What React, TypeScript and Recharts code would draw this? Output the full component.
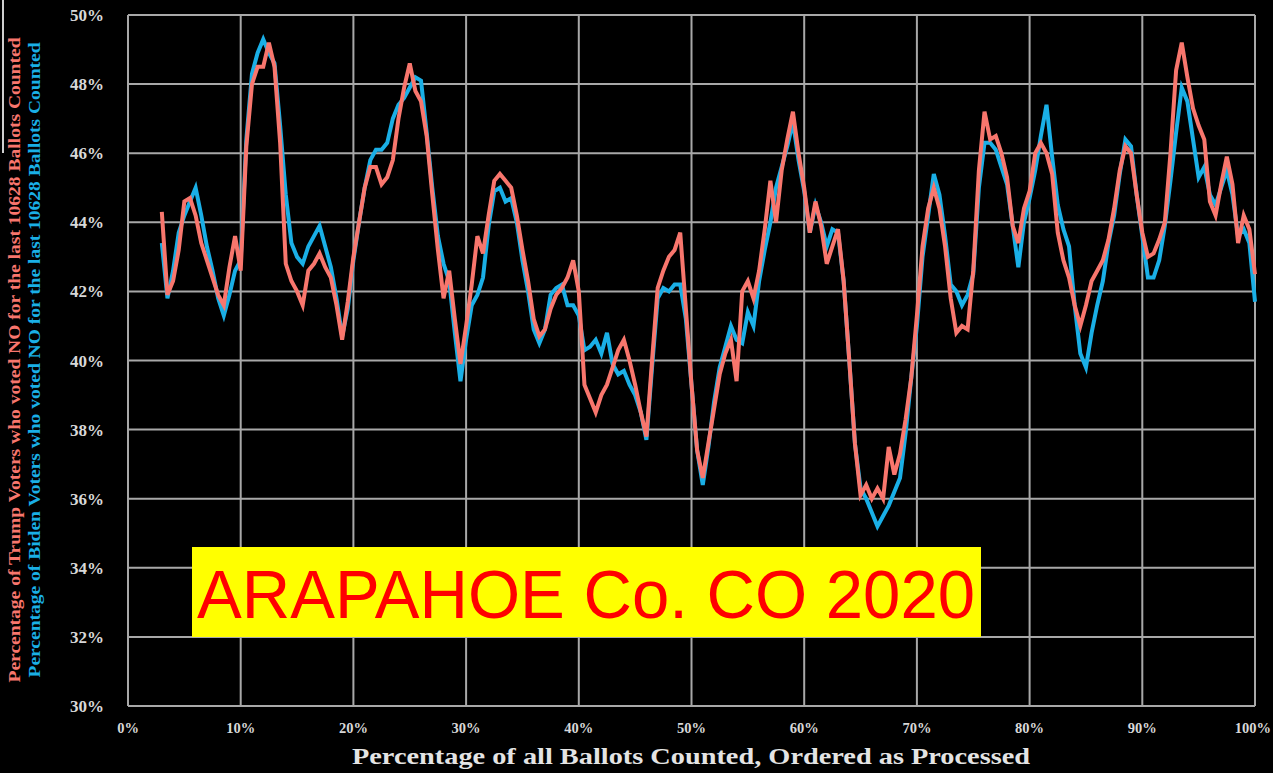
import React from "react";
import { LineChart, Line, XAxis, YAxis, CartesianGrid } from "recharts";

const pct = [
  3.0, 3.5, 4.0, 4.5, 5.0, 5.5, 6.0, 6.5, 7.0, 7.5, 8.0, 8.5, 9.0, 9.5, 10.0, 10.5, 11.0, 11.5, 12.0, 12.5,
  13.0, 13.5, 14.0, 14.5, 15.0, 15.5, 16.0, 16.5, 17.0, 17.5, 18.0, 18.5, 19.0, 19.5, 20.0, 20.5, 21.0, 21.5, 22.0, 22.5,
  23.0, 23.5, 24.0, 24.5, 25.0, 25.5, 26.0, 26.5, 27.0, 27.5, 28.0, 28.5, 29.0, 29.5, 30.0, 30.5, 31.0, 31.5, 32.0, 32.5,
  33.0, 33.5, 34.0, 34.5, 35.0, 35.5, 36.0, 36.5, 37.0, 37.5, 38.0, 38.5, 39.0, 39.5, 40.0, 40.5, 41.0, 41.5, 42.0, 42.5,
  43.0, 43.5, 44.0, 44.5, 45.0, 45.5, 46.0, 46.5, 47.0, 47.5, 48.0, 48.5, 49.0, 49.5, 50.0, 50.5, 51.0, 51.5, 52.0, 52.5,
  53.0, 53.5, 54.0, 54.5, 55.0, 55.5, 56.0, 56.5, 57.0, 57.5, 58.0, 58.5, 59.0, 59.5, 60.0, 60.5, 61.0, 61.5, 62.0, 62.5,
  63.0, 63.5, 64.0, 64.5, 65.0, 65.5, 66.0, 66.5, 67.0, 67.5, 68.0, 68.5, 69.0, 69.5, 70.0, 70.5, 71.0, 71.5, 72.0, 72.5,
  73.0, 73.5, 74.0, 74.5, 75.0, 75.5, 76.0, 76.5, 77.0, 77.5, 78.0, 78.5, 79.0, 79.5, 80.0, 80.5, 81.0, 81.5, 82.0, 82.5,
  83.0, 83.5, 84.0, 84.5, 85.0, 85.5, 86.0, 86.5, 87.0, 87.5, 88.0, 88.5, 89.0, 89.5, 90.0, 90.5, 91.0, 91.5, 92.0, 92.5,
  93.0, 93.5, 94.0, 94.5, 95.0, 95.5, 96.0, 96.5, 97.0, 97.5, 98.0, 98.5, 99.0, 99.5, 100.0,
];

const trump = [
  44.3, 41.9, 42.3, 43.2, 44.6, 44.7, 44.2, 43.4, 42.9, 42.4, 41.9, 41.6, 42.7, 43.6, 42.6, 46.2, 48.0, 48.5, 48.5, 49.2,
  48.5, 46.3, 42.8, 42.3, 42.0, 41.6, 42.6, 42.8, 43.1, 42.7, 42.4, 41.6, 40.6, 41.7, 43.0, 44.0, 45.0, 45.6, 45.6, 45.1,
  45.3, 45.8, 47.0, 47.9, 48.6, 47.8, 47.5, 46.5, 44.8, 43.2, 41.8, 42.6, 41.2, 39.9, 41.0, 42.2, 43.6, 43.1, 44.2, 45.2,
  45.4, 45.2, 45.0, 44.2, 43.2, 42.3, 41.2, 40.7, 40.9, 41.5, 41.9, 42.1, 42.4, 42.9, 42.0, 39.3, 38.9, 38.5, 39.0, 39.3,
  39.8, 40.3, 40.6, 40.0, 39.3, 38.5, 37.8, 40.0, 42.1, 42.6, 43.0, 43.2, 43.7, 41.5, 39.3, 37.4, 36.6, 37.6, 38.6, 39.6,
  40.2, 40.6, 39.4, 42.0, 42.3, 41.8, 42.6, 43.8, 45.2, 44.0, 45.5, 46.4, 47.2, 46.0, 45.0, 43.7, 44.6, 43.9, 42.8, 43.3,
  43.8, 42.3, 40.0, 37.6, 36.1, 36.4, 36.0, 36.3, 36.0, 37.5, 36.7, 37.3, 38.3, 39.5, 41.3, 43.3, 44.4, 45.0, 44.4, 43.3,
  41.8, 40.8, 41.0, 40.9, 42.6, 45.5, 47.2, 46.4, 46.5, 46.0, 45.3, 43.9, 43.4, 44.4, 44.9, 46.0, 46.3, 46.0, 45.4, 43.7,
  42.9, 42.4, 41.6, 41.0, 41.6, 42.3, 42.6, 42.9, 43.5, 44.4, 45.5, 46.2, 46.0, 44.8, 43.7, 43.0, 43.1, 43.5, 44.0, 46.0,
  48.4, 49.2, 48.2, 47.3, 46.8, 46.4, 44.6, 44.2, 45.1, 45.9, 45.1, 43.4, 44.2, 43.8, 42.5,
];

const biden = [
  43.4, 41.8, 42.6, 43.7, 44.2, 44.6, 45.0, 44.2, 43.3, 42.6, 41.8, 41.3, 41.9, 42.6, 42.9, 46.4, 48.3, 48.9, 49.3, 48.9,
  48.6, 46.8, 44.8, 43.4, 43.0, 42.8, 43.3, 43.6, 43.9, 43.3, 42.7, 41.8, 40.7, 41.5, 42.9, 44.0, 45.0, 45.8, 46.1, 46.1,
  46.3, 47.0, 47.4, 47.6, 47.9, 48.2, 48.1, 46.6, 45.0, 43.6, 42.8, 42.3, 40.8, 39.4, 40.6, 41.6, 41.9, 42.4, 43.9, 44.9,
  45.0, 44.6, 44.7, 44.0, 42.9, 42.0, 40.9, 40.5, 40.9, 41.9, 42.1, 42.2, 41.6, 41.6, 41.3, 40.3, 40.4, 40.6, 40.2, 40.8,
  39.9, 39.6, 39.7, 39.3, 39.0, 38.5, 37.7, 39.8, 41.8, 42.1, 42.0, 42.2, 42.2, 41.2, 39.3, 37.4, 36.4, 37.5, 38.8, 39.8,
  40.4, 41.0, 40.6, 40.5, 41.4, 41.0, 42.3, 43.2, 44.0, 45.0, 45.6, 46.2, 46.9, 45.8, 44.9, 43.7, 44.5, 44.0, 43.3, 43.8,
  43.7, 42.3, 40.0, 37.6, 36.3, 36.0, 35.6, 35.2, 35.5, 35.8, 36.2, 36.6, 37.9, 39.5, 41.0, 43.0, 44.2, 45.4, 44.8, 43.6,
  42.2, 42.0, 41.6, 41.9, 42.5, 45.0, 46.3, 46.3, 46.1, 45.6, 45.1, 43.9, 42.7, 44.0, 44.7, 45.5, 46.5, 47.4, 45.9, 44.5,
  43.8, 43.3, 41.6, 40.2, 39.8, 40.8, 41.6, 42.3, 43.4, 44.2, 45.4, 46.4, 46.2, 44.8, 43.6, 42.4, 42.4, 42.9, 43.9, 45.2,
  46.6, 47.9, 47.5, 46.4, 45.3, 45.6, 44.8, 44.5, 45.0, 45.5, 44.8, 43.6, 43.8, 43.4, 41.7,
];

const xTicks = [0, 10, 20, 30, 40, 50, 60, 70, 80, 90, 100];
const yTicks = [30, 32, 34, 36, 38, 40, 42, 44, 46, 48, 50];

const data = pct.map((p, i) => ({ pct: p, trump: trump[i], biden: biden[i] }));

const SERIF = '"Liberation Serif", "Times New Roman", serif';
const TRUMP_COLOR = "#F8766D";
const BIDEN_COLOR = "#1AAFE6";

const YTick = (props: any) => {
  const { x, y, payload } = props;
  return (
    <text x={x - 16} y={y} dy={6} textAnchor="end" fill="#D8D8D8" fontFamily={SERIF} fontWeight="bold" fontSize={17}>
      {payload.value}%
    </text>
  );
};

const XTick = (props: any) => {
  const { x, y, payload } = props;
  const isLast = payload.value === 100;
  return (
    <text
      x={isLast ? 1271 : x}
      y={y}
      dy={19}
      textAnchor={isLast ? "end" : "middle"}
      fill="#D8D8D8"
      fontFamily={SERIF}
      fontWeight="bold"
      fontSize={14.5}
    >
      {payload.value}%
    </text>
  );
};

export default function App() {
  return (
    <div style={{ position: "absolute", left: 0, top: 0, width: 1273, height: 773, background: "#000", overflow: "hidden" }}>
      <LineChart width={1273} height={773} data={data} margin={{ top: 15, right: 18, bottom: 37, left: 0 }}>
        <CartesianGrid stroke="#A8A8A8" strokeWidth={2} />
        <XAxis
          dataKey="pct"
          type="number"
          domain={[0, 100]}
          ticks={xTicks}
          height={30}
          tick={<XTick />}
          tickLine={false}
          axisLine={{ stroke: "#A8A8A8", strokeWidth: 2 }}
        />
        <YAxis
          type="number"
          domain={[30, 50]}
          ticks={yTicks}
          width={128}
          tick={<YTick />}
          tickLine={false}
          axisLine={{ stroke: "#A8A8A8", strokeWidth: 2 }}
        />
        <Line dataKey="biden" stroke={BIDEN_COLOR} strokeWidth={4} dot={false} isAnimationActive={false} strokeLinejoin="miter" />
        <Line dataKey="trump" stroke={TRUMP_COLOR} strokeWidth={4} dot={false} isAnimationActive={false} strokeLinejoin="miter" />
      </LineChart>
      <svg width={1273} height={773} style={{ position: "absolute", left: 0, top: 0, pointerEvents: "none" }}>
        <line x1={3} y1={0} x2={3} y2={153} stroke="#CFCFCF" strokeWidth={2} />
        <text
          transform="translate(20,360) rotate(-90)"
          textAnchor="middle"
          fill={TRUMP_COLOR}
          fontFamily={SERIF}
          fontWeight="bold"
          fontSize={16}
          textLength={645}
          lengthAdjust="spacingAndGlyphs"
        >
          Percentage of Trump Voters who voted NO for the last 10628 Ballots Counted
        </text>
        <text
          transform="translate(40,360) rotate(-90)"
          textAnchor="middle"
          fill={BIDEN_COLOR}
          fontFamily={SERIF}
          fontWeight="bold"
          fontSize={16}
          textLength={635}
          lengthAdjust="spacingAndGlyphs"
        >
          Percentage of Biden Voters who voted NO for the last 10628 Ballots Counted
        </text>
        <text
          x={691}
          y={764}
          textAnchor="middle"
          fill="#E4E4E4"
          fontFamily={SERIF}
          fontWeight="bold"
          fontSize={23}
          textLength={678}
          lengthAdjust="spacingAndGlyphs"
        >
          Percentage of all Ballots Counted, Ordered as Processed
        </text>
        <rect x={192} y={547} width={789} height={90} fill="#FFFF00" />
        <text
          x={586}
          y={618}
          textAnchor="middle"
          fill="#FF0000"
          fontFamily='"Liberation Sans", Arial, sans-serif'
          fontSize={68}
          textLength={778}
          lengthAdjust="spacingAndGlyphs"
        >
          ARAPAHOE Co. CO 2020
        </text>
      </svg>
    </div>
  );
}
